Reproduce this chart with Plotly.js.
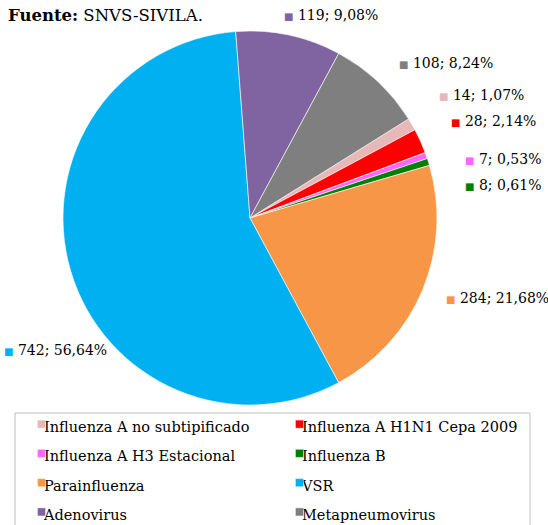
<!DOCTYPE html>
<html><head><meta charset="utf-8">
<script src="https://cdn.plot.ly/plotly-3.0.1.min.js"></script>
<style>
html,body{margin:0;padding:0;background:#fff}
g.legend g.scrollbox{clip-path:none !important}
g.legend path.legendpie{transform:translate(37.5px,0px) scale(0.67) !important}
</style>
</head><body>
<div id="chart" style="width:548px;height:525px"></div>
<script>
const categories = ["Influenza A no subtipificado","Influenza A H1N1 Cepa 2009","Influenza A H3 Estacional","Influenza B","Parainfluenza","VSR","Adenovirus","Metapneumovirus"];
const values = [14, 28, 7, 8, 284, 742, 119, 108];
const colors = ["#E6B9B8","#FF0000","#FF66FF","#008000","#F79646","#00B0F0","#8064A2","#7F7F7F"];
// label anchor positions in pixels (left, middle)
const labelPos = [[437,95],[449,121],[463,159],[463,185],[444,298],[2,350],[282,15],[397,63]];

const W = 548, H = 525;
const total = values.reduce((a,b)=>a+b,0);
const FONT = "DejaVu Serif";

const annotations = values.map((v,i)=>({
  xref:'paper', yref:'paper', x: labelPos[i][0]/W, y: 1-labelPos[i][1]/H,
  xanchor:'left', yanchor:'middle', showarrow:false,
  text: '<span style="color:'+colors[i]+';font-size:10px">■</span> ' + v + '; ' + (v/total*100).toFixed(2).replace('.',',') + '%',
  font:{family:FONT, size:14, color:'#000'}
}));

const cx = 250, cy = 218, r = 187;
const data = [{
  type:'pie', labels:categories.map(c=>'<span style="font-size:14.5px">'+c+'</span>'), values:values, sort:false, direction:'clockwise', rotation:58,
  marker:{colors:colors, line:{color:'#ffffff', width:0.6}},
  textinfo:'none', hoverinfo:'value+percent',
  domain:{x:[(cx-r)/W,(cx+r)/W], y:[(H-cy-r)/H,(H-cy+r)/H]}
}];

const layout = {
  width:W, height:H, margin:{l:0,r:0,t:0,b:0, autoexpand:false},
  paper_bgcolor:'#fff', plot_bgcolor:'#fff',
  separators:',.',
  title:{text:'<b>Fuente:</b> SNVS-SIVILA.', x:8/W, xanchor:'left', y:1-15/H, yanchor:'middle', yref:'paper', font:{family:FONT, size:16.5, color:'#000'}},
  showlegend:true,
  legend:{orientation:'h', x:4/W, xanchor:'left', y:1-404.5/H, yanchor:'top',
    font:{family:FONT, size:20.2, color:'#000'}, entrywidth:213, entrywidthmode:'pixels',
    traceorder:'normal', bgcolor:'rgba(0,0,0,0)'},
  annotations:annotations,
  shapes:[{type:'rect', xref:'paper', yref:'paper', x0:15/W, x1:530/W, y0:-0.02, y1:1-413/H,
    line:{color:'#BFBFBF', width:1}, fillcolor:'rgba(0,0,0,0)'}]
};
Plotly.newPlot('chart', data, layout, {displayModeBar:false, staticPlot:true});
</script>
</body></html>
